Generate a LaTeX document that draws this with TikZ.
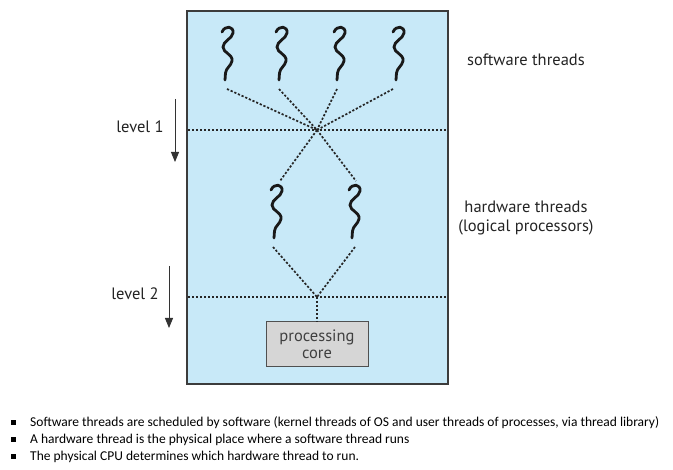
\documentclass[tikz,border=0pt]{standalone}
\usepackage{fontspec}
\setmainfont{PT Sans}
\newfontfamily\labfont{PT Sans}
\newfontfamily\bulfont{Carlito}
\usetikzlibrary{arrows.meta}
\definecolor{panelblue}{RGB}{200,233,248}
\definecolor{paneledge}{RGB}{60,60,60}
\definecolor{corefill}{RGB}{214,214,214}
\definecolor{coreedge}{RGB}{80,80,80}
\definecolor{txt}{RGB}{35,35,35}
\tikzset{
  panel/.style={draw=paneledge, fill=panelblue, line width=1.4pt},
  dots/.style={line width=1.7pt, dash pattern=on 2.2pt off 1.8pt, color=black!85},
  lvlarrow/.style={line width=0.9pt, color=black!80, -{Triangle[width=8pt,length=10pt]}},
  lbl/.style={font=\labfont\fontsize{16.5}{19}\selectfont, text=txt, align=center, inner sep=0pt},
  corebox/.style={draw=coreedge, fill=corefill, line width=1pt, minimum width=102pt, minimum height=45pt, font=\labfont\fontsize{16.5}{18}\selectfont, text=black!75, align=center},
  bsq/.style={fill=black, minimum size=5pt, inner sep=0pt},
  btxt/.style={font=\bulfont\fontsize{13.5}{15}\selectfont, anchor=base west, inner sep=0pt},
  thread/.pic={\draw[line width=2.8pt, line cap=round, black!90]
    (-3,-48) .. controls (0,-55) and (9,-54) .. (8,-47)
    .. controls (7,-41) and (-2,-39) .. (-2,-33)
    .. controls (-2,-27) and (8,-26) .. (7,-19)
    .. controls (6,-14) and (1,-12) .. (0.5,-7) -- (0,0);}
}
\begin{document}
\begin{tikzpicture}[x=1pt,y=-1pt]
\useasboundingbox (0,0) rectangle (673,470);
% panel
\draw[panel] (187,11) rectangle (448,384);
% software threads
\pic at (225,80) {thread};
\pic at (279,80) {thread};
\pic at (337,80) {thread};
\pic at (396,80) {thread};
% hardware threads
\pic at (274,238) {thread};
\pic at (352,238) {thread};
% coordinates
\coordinate (s1) at (227,89);
\coordinate (s2) at (279,89);
\coordinate (s3) at (337,89);
\coordinate (s4) at (393,89);
\coordinate (x1) at (317,130);
\coordinate (h1t) at (280,181);
\coordinate (h2t) at (356,181);
\coordinate (h1b) at (273,247);
\coordinate (h2b) at (355,247);
\coordinate (x2) at (317,297);
\coordinate (l1a) at (188,130);
\coordinate (l1b) at (447,130);
\coordinate (l2a) at (188,297);
\coordinate (l2b) at (447,297);
% core
\node[corebox] (core) at (317,344.5) {processing\\[-1pt]core};
% dotted connectors
\draw[dots] (l1a) -- (l1b);
\draw[dots] (l2a) -- (l2b);
\foreach \s in {s1,s2,s3,s4} \draw[dots] (\s) -- (x1);
\draw[dots] (x1) -- (h1t);
\draw[dots] (x1) -- (h2t);
\draw[dots] (h1b) -- (x2);
\draw[dots] (h2b) -- (x2);
\draw[dots] (x2) -- (core.north);
% labels
\node[lbl] (sw) at (526,60) {software threads};
\node[lbl] (hw) at (526,218) {hardware threads\\(logical processors)};
\node[lbl] (lv1) at (140,127) {level 1};
\node[lbl] (lv2) at (135,294) {level 2};
% level arrows
\coordinate (a1s) at (175,99);
\coordinate (a1e) at (175,162);
\coordinate (a2s) at (169,266);
\coordinate (a2e) at (169,328);
\draw[lvlarrow] (a1s) -- (a1e);
\draw[lvlarrow] (a2s) -- (a2e);
% bullets
\node[bsq] (q1) at (13,423) {};
\node[bsq] (q2) at (13,440) {};
\node[bsq] (q3) at (13,457) {};
\node[btxt] (t1) at (30,427) {Software threads are scheduled by software (kernel threads of OS and user threads of processes, via thread library)};
\node[btxt] (t2) at (30,444) {A hardware thread is the physical place where a software thread runs};
\node[btxt] (t3) at (30,461) {The physical CPU determines which hardware thread to run.};
\end{tikzpicture}
\end{document}
